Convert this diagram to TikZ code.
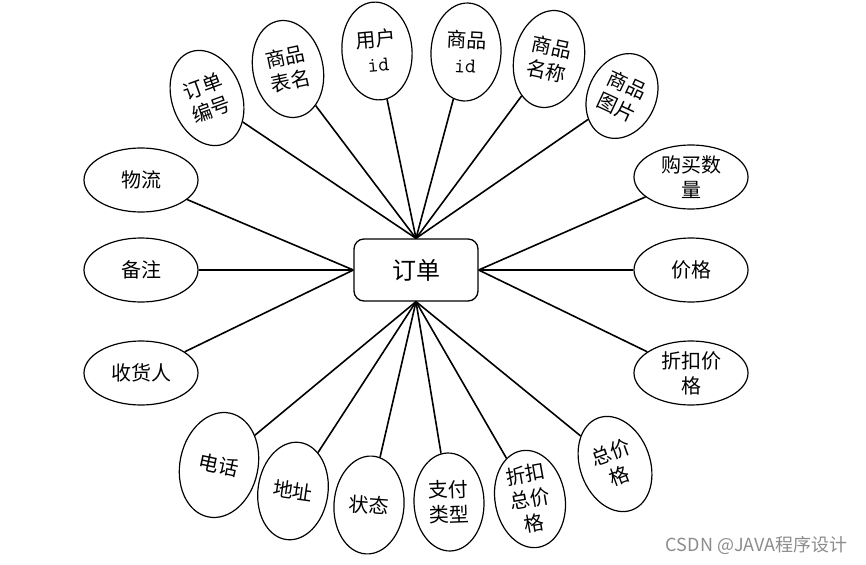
\documentclass[tikz,border=0pt]{standalone}
\usepackage{fontspec}
\newfontfamily\cjk{Noto Sans CJK SC}
\usetikzlibrary{shapes.geometric}

\begin{document}
\begin{tikzpicture}[x=1pt, y=-1pt,
        entity/.style={draw, line width=1.3pt, rounded corners=10pt, minimum width=124pt, minimum height=62pt, font=\cjk\fontsize{24}{28}\selectfont},
        attr/.style={draw, ellipse, line width=1.2pt, inner sep=0pt, align=center, font=\cjk\fontsize{20}{25}\selectfont},
        vattr/.style={attr, minimum width=70pt, minimum height=98pt},
        hattr/.style={attr, minimum width=114pt, minimum height=64pt}]
        \useasboundingbox (0,0) rectangle (866,564);

        \node[entity] (order) at (416,270) {订单};

        % top
        \node[vattr, rotate=20] (ddbh) at (207,98) {订单\\编号};
        \node[vattr, rotate=12] (spbm) at (288,69) {商品\\表名};
        \node[vattr, rotate=5] (yhid) at (377,51) {用户\\{\ttfamily\fontsize{21}{25}\selectfont id}};
        \node[vattr, rotate=-3] (spid) at (466,52) {商品\\{\ttfamily\fontsize{21}{25}\selectfont id}};
        \node[vattr, rotate=-12] (spmc) at (549,59) {商品\\名称};
        \node[vattr, rotate=-25, minimum width=68pt, minimum height=88pt] (sptp) at (622,96) {商品\\图片};

        % right
        \node[hattr] (gmsl) at (691,177) {购买数\\量};
        \node[hattr] (jg) at (691,270) {价格};
        \node[hattr] (zkjg) at (691,373) {折扣价\\格};

        % left
        \node[hattr] (wl) at (141,180) {物流};
        \node[hattr] (bz) at (141,270) {备注};
        \node[hattr] (shr) at (141,373) {收货人};

        % bottom
        \node[vattr, rotate=-12, minimum width=78pt, minimum height=106pt] (dh) at (219,465) {电话};
        \node[vattr, rotate=-8] (dz) at (293,491) {地址};
        \node[vattr, rotate=-4] (zt) at (369,505) {状态};
        \node[vattr, rotate=2] (zflx) at (449,502) {支付\\类型};
        \node[vattr, rotate=10] (zkzjg) at (530,499) {折扣\\总价\\格};
        \node[vattr, rotate=20] (zjg) at (615,464) {总价\\格};

        \path[line width=1.6pt]
        (order.north) edge (ddbh)
        (order.north) edge (spbm)
        (order.north) edge (yhid)
        (order.north) edge (spid)
        (order.north) edge (spmc)
        (order.north) edge (sptp)

        (order.east) edge (gmsl)
        (order.east) edge (jg)
        (order.east) edge (zkjg)

        (order.west) edge (wl)
        (order.west) edge (bz)
        (order.west) edge (shr)

        (order.south) edge (dh)
        (order.south) edge (dz)
        (order.south) edge (zt)
        (order.south) edge (zflx)
        (order.south) edge (zkzjg)
        (order.south) edge (zjg);

        \node[font=\cjk\fontsize{18}{22}\selectfont, text=black!45, anchor=east] (mark) at (851,545) {CSDN @JAVA程序设计};
\end{tikzpicture}
\end{document}
